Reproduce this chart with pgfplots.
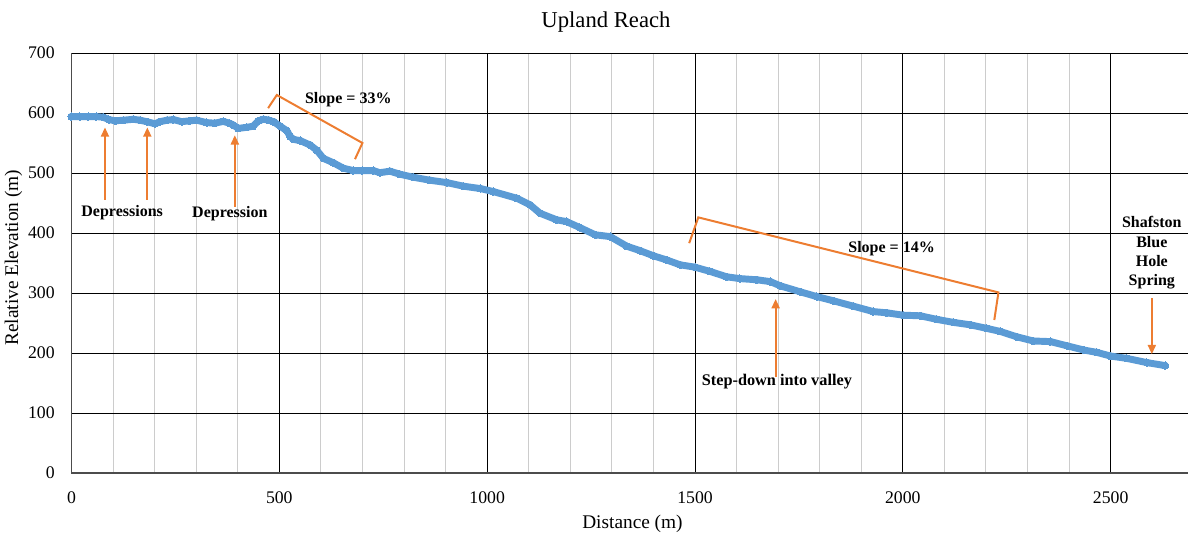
\documentclass[border=0pt]{standalone}
\usepackage{fontspec}
\setmainfont{Liberation Serif}
\usepackage{pgfplots}
\pgfplotsset{compat=1.18}
\usetikzlibrary{arrows.meta,calc}
\definecolor{exblue}{RGB}{91,155,213}
\definecolor{exorange}{RGB}{237,125,49}
\begin{document}
\begin{tikzpicture}
\begin{axis}[
  scale only axis, width=837.4pt, height=315pt,
  xmin=0, xmax=2686, ymin=0, ymax=700,
  xtick={0,500,...,2500}, ytick={0,100,...,700},
  minor x tick num=4,
  grid=both,
  major grid style={black, line width=0.6pt},
  minor grid style={gray!40, line width=0.75pt},
  major tick length=0pt, minor tick length=0pt,
  axis lines=left,
  axis line style={-, black!70, line width=0.9pt},
  /pgf/number format/assume math mode=true,
  /pgf/number format/1000 sep={},
  tick label style={font=\fontsize{13.3}{15}\selectfont},
  yticklabel style={inner sep=0pt, anchor=east, xshift=-12.4pt},
  xticklabel style={inner sep=0pt, anchor=north, yshift=-14pt},
  clip=false,
]
\addplot[color=exblue, line width=5.2pt, line join=round, line cap=round,
  mark=*, mark size=2.7pt, mark options={fill=exblue, draw=exblue, line width=0pt}] table {
x y
0 594
20 594
40 594
60 594
76 593
90 589
105 587
125 588
149 589.5
165 588
181 585.6
201 582
213 585.6
230 588
245 589
265 585.6
285 587
301 588
325 584
345 583
365 586
380 583
389 580
401 574.4
421 576
437 578
450 587
462 589.5
475 588
486 585.6
502 578
518 570.6
526 561
534 556
550 554
574 546.7
590 538
606 524.4
630 517
654 508
678 504
700 504
726 504
742 500.5
766 503
790 498
822 493
862 488
903 484
943 478
984 474
1015 469
1071 458
1103 447
1127 433
1167 422
1191 419
1223 409
1260 397
1296 394
1336 378
1368 370.5
1400 362
1432 355
1464 347
1500 343
1536 336
1576 327
1608 324
1649 322
1681 319
1705 312
1753 302
1793 294
1833 287
1881 278
1929 269
1961 267
2001 263
2042 262
2082 256
2122 251
2162 247
2202 241
2234 236
2274 227
2314 220
2355 219
2395 212
2435 205
2467 201
2499 195
2539 191
2587 184
2631 179
};
\coordinate (SW) at (rel axis cs:0,0);
\coordinate (NE) at (rel axis cs:1,1);
% annotations
\draw[exorange, line width=1.5pt] (axis cs:473,608) -- (axis cs:494,630) -- (axis cs:700,550) -- (axis cs:682,523);
\node[font=\bfseries\fontsize{12}{14}\selectfont] at (axis cs:666,622) {Slope = 33\%};
\draw[exorange, line width=1.5pt] (axis cs:1486,383) -- (axis cs:1508,426) -- (axis cs:2230,301) -- (axis cs:2220,255);
\node[font=\bfseries\fontsize{12}{14}\selectfont] at (axis cs:1973,374.5) {Slope = 14\%};
\draw[exorange, line width=1.5pt, -{Triangle[length=7pt,width=6pt]}] (axis cs:80.6,455) -- (axis cs:80.6,576);
\draw[exorange, line width=1.5pt, -{Triangle[length=7pt,width=6pt]}] (axis cs:182.5,455) -- (axis cs:182.5,576);
\node[font=\bfseries\fontsize{12}{14}\selectfont] at (axis cs:122,434) {Depressions};
\draw[exorange, line width=1.5pt, -{Triangle[length=7pt,width=6pt]}] (axis cs:393,444) -- (axis cs:393,563);
\node[font=\bfseries\fontsize{12}{14}\selectfont] at (axis cs:381,432) {Depression};
\draw[exorange, line width=1.5pt, -{Triangle[length=7pt,width=6pt]}] (axis cs:1694,160) -- (axis cs:1694,290);
\node[font=\bfseries\fontsize{12.2}{14}\selectfont] at (axis cs:1697,152) {Step-down into valley};
\draw[exorange, line width=1.5pt, -{Triangle[length=7pt,width=6pt]}] (axis cs:2599,291) -- (axis cs:2599,198);
\node[font=\bfseries\fontsize{12}{14.4}\selectfont, align=center] at (axis cs:2599,367) {Shafston\\Blue\\Hole\\Spring};
\end{axis}
\node[font=\fontsize{17}{19}\selectfont, anchor=base] at ($(SW|-NE)+(400.9pt,19.3pt)$) {Upland Reach};
\node[font=\fontsize{14.5}{16}\selectfont, anchor=base] at ($(SW)+(420.75pt,-41.5pt)$) {Distance (m)};
\node[font=\fontsize{14.5}{16}\selectfont, rotate=90] at ($(SW)!0.5!(SW|-NE)+(-43.4pt,4pt)$) {Relative Elevation (m)};
\pgfresetboundingbox
\useasboundingbox ($(SW)+(-53.6pt,-46.5pt)$) rectangle ($(NE)+(0,39.75pt)$);
\end{tikzpicture}
\end{document}
